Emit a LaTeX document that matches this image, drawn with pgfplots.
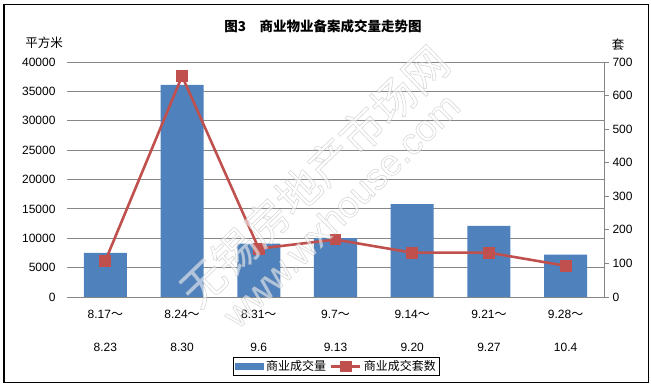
\documentclass[border=0pt]{standalone}
\usepackage{pgfplots}
\pgfplotsset{compat=1.18}
\usepackage{fontspec}
\setmainfont{Liberation Sans}
\newfontfamily\cjk{Noto Sans CJK SC}
\definecolor{barblue}{HTML}{4F81BD}
\definecolor{linered}{HTML}{C0504D}
\definecolor{gridgray}{HTML}{868686}
\newcommand{\tl}{{\cjk ～}}
\begin{document}
\begin{tikzpicture}[x=1pt,y=1pt]
\useasboundingbox (0,0) rectangle (651,387);
\draw[black, line width=1.3pt] (4,4.5) rectangle (648.5,382.5);
\begin{axis}[
  at={(67pt,90pt)}, anchor=south west, scale only axis,
  width=537pt, height=235pt,
  xmin=-0.5, xmax=6.5, ymin=0, ymax=40000,
  ytick={0,5000,...,40000},
  xtick={0,...,6},
  xticklabels={8.17\tl\\[19pt]8.23, 8.24\tl\\[19pt]8.30, 8.31\tl\\[19pt]9.6, 9.7\tl\\[19pt]9.13, 9.14\tl\\[19pt]9.20, 9.21\tl\\[19pt]9.27, 9.28\tl\\[19pt]10.4},
  x tick label style={align=center, yshift=-10pt},
  y tick label style={xshift=-8pt},
  major tick length=0pt,
  ymajorgrids, grid style={gridgray, line width=0.9pt},
  axis x line*=bottom, axis y line*=left,
  x axis line style={gridgray, line width=0.9pt},
  y axis line style={draw=none},
  scaled y ticks=false,
  /pgf/number format/1000 sep={},
  /pgf/number format/assume math mode=true,
  tick label style={font=\fontsize{12}{14}\selectfont},
  ybar, bar width=43pt,
]
\addplot[fill=barblue, draw=none] coordinates {(0,7500) (1,36100) (2,9100) (3,10000) (4,15800) (5,12100) (6,7200)};
\end{axis}
\begin{axis}[
  at={(67pt,90pt)}, anchor=south west, scale only axis,
  width=537pt, height=235pt,
  xmin=-0.5, xmax=6.5, ymin=0, ymax=700,
  ytick={0,100,...,700},
  xtick=\empty,
  axis x line=none, axis y line*=right,
  y axis line style={gridgray, line width=0.9pt},
  ytick style={gridgray, line width=0.9pt},
  tick align=outside, major tick length=5pt,
  /pgf/number format/assume math mode=true,
  tick label style={font=\fontsize{12}{14}\selectfont},
  legend style={at={(0.502,-0.296)}, anchor=center, legend columns=2, draw=black, line width=0.8pt,
    font=\cjk\fontsize{12}{14}\selectfont, inner sep=1.5pt,
    /tikz/every even column/.append style={column sep=2pt}},
  legend cell align=left,
]
\addlegendimage{legend image code/.code={\fill[barblue] (0pt,-3pt) rectangle (28pt,3pt);}}
\addlegendentry{商业成交量}
\addplot[linered, line width=2.6pt, mark=square*, mark size=4.6pt, mark options={solid},
  legend image code/.code={\draw[linered,line width=2.6pt] (0pt,0pt)--(29pt,0pt); \fill[linered] (10pt,-4.6pt) rectangle (19.2pt,4.6pt);}]
  coordinates {(0,108) (1,658) (2,144) (3,171) (4,132) (5,132) (6,93)};
\addlegendentry{商业成交套数}
\end{axis}
\node[font=\cjk\bfseries\fontsize{13.5}{16}\selectfont] at (323,361) {图3\hspace{1em}商业物业备案成交量走势图};
\node[font=\cjk\fontsize{12.5}{14}\selectfont] at (44,344) {平方米};
\node[font=\cjk\fontsize{12.5}{14}\selectfont] at (618,342) {套};
\begin{scope}[opacity=0.55]
\node[rotate=43.8, font=\cjk\fontsize{44}{48}\selectfont, text=white] at (314,211) {\special{pdf:literal direct 0.72 0.72 0.72 RG 0.6 w 2 Tr}无锡房地产市场网\special{pdf:literal direct 0 Tr}};
\node[rotate=44.6, font=\fontsize{37}{40}\selectfont, text=white] at (341,177) {\special{pdf:literal direct 0.72 0.72 0.72 RG 0.6 w 2 Tr}www.wxhouse.com\special{pdf:literal direct 0 Tr}};
\end{scope}
\end{tikzpicture}
\end{document}
